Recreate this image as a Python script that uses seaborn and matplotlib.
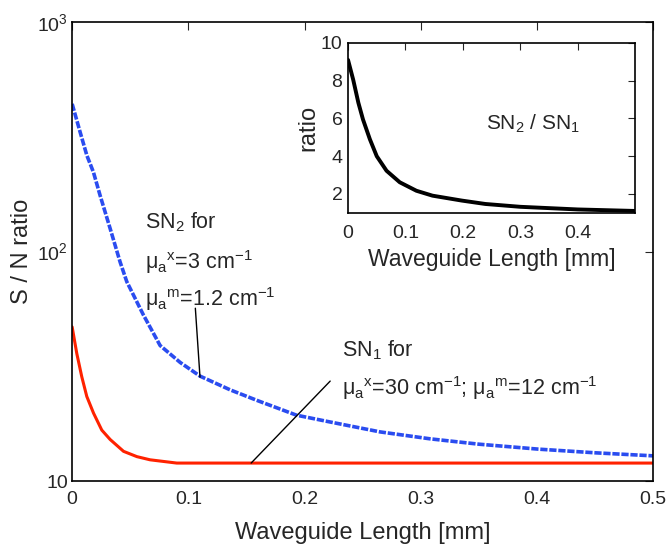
import matplotlib
matplotlib.use("Agg")
import matplotlib.pyplot as plt
import seaborn as sns
import numpy as np

# values
x_sn2 = [0, 0.0069, 0.0127, 0.0183, 0.024, 0.0327, 0.0413, 0.047, 0.0613, 0.0757,
         0.093, 0.110, 0.136, 0.16, 0.193, 0.22, 0.265, 0.308, 0.35, 0.401, 0.45, 0.5]
y_sn2 = [440, 331, 262, 222, 176, 126, 90, 74, 53, 39,
         32.9, 28.7, 25.0, 22.4, 19.4, 18.2, 16.4, 15.3, 14.5, 13.8, 13.3, 12.9]

x_sn1 = [0, 0.004, 0.0083, 0.0126, 0.0184, 0.0255, 0.0327, 0.0442, 0.0557, 0.067,
         0.090, 0.15, 0.3, 0.5]
y_sn1 = [47.0, 36.0, 28.5, 23.4, 19.8, 16.7, 15.2, 13.5, 12.8, 12.4,
         12.0, 12.0, 12.0, 12.0]

x_ratio = [0, 0.009, 0.018, 0.026, 0.038, 0.05, 0.067, 0.09, 0.119, 0.147, 0.198,
           0.239, 0.3, 0.4, 0.5]
y_ratio = [9.1, 8.05, 6.83, 5.95, 4.9, 4.0, 3.23, 2.62, 2.17, 1.91, 1.65,
           1.47, 1.32, 1.18, 1.1]

x_ticks = [0, 0.1, 0.2, 0.3, 0.4, 0.5]
x_ticklabels = ['0', '0.1', '0.2', '0.3', '0.4', '0.5']
y_ticks = [10, 100, 1000]
y_ticklabels = ['10', '$10^2$', '$10^3$']
inset_xticks = [0, 0.1, 0.2, 0.3, 0.4]
inset_xticklabels = ['0', '0.1', '0.2', '0.3', '0.4']
inset_yticks = [2, 4, 6, 8, 10]

sns.set_style('white')
plt.rcParams['font.family'] = ['Liberation Sans', 'DejaVu Sans']
plt.rcParams['mathtext.default'] = 'regular'
plt.rcParams['xtick.direction'] = 'in'
plt.rcParams['ytick.direction'] = 'in'

fig = plt.figure(figsize=(6.68, 5.5), dpi=100)
ax = fig.add_axes([0.108, 0.125, 0.870, 0.835])

sns.lineplot(x=x_sn2, y=y_sn2, ax=ax, color='#2a4cf0', linewidth=2.6,
             linestyle=(0, (2.0, 0.5)), sort=False)
sns.lineplot(x=x_sn1, y=y_sn1, ax=ax, color='#ff2200', linewidth=2.2, sort=False)

ax.set_yscale('log')
ax.set_xlim(0, 0.5)
ax.set_ylim(10, 1000)
ax.set_xticks(x_ticks)
ax.set_xticklabels(x_ticklabels)
ax.set_yticks(y_ticks)
ax.set_yticklabels(y_ticklabels)
ax.yaxis.set_minor_locator(matplotlib.ticker.NullLocator())
ax.tick_params(which='both', top=True, right=True, length=6, width=0.8,
               labelsize=14)
ax.tick_params(axis='x', pad=7)
ax.tick_params(axis='y', pad=3)
for sp in ax.spines.values():
    sp.set_color('black')
    sp.set_linewidth(1.2)
ax.set_xlabel('Waveguide Length [mm]', fontsize=17, labelpad=10)
ax.set_ylabel('S / N ratio', fontsize=17)
ax.yaxis.set_label_coords(-0.068, 0.5)

# annotations
ax.text(0.063, 134, 'SN$_2$ for', fontsize=15.5, va='center')
ax.text(0.063, 90, '$\\mu_a{}^x$=3 cm$^{-1}$', fontsize=15.5, va='center')
ax.text(0.063, 62, '$\\mu_a{}^m$=1.2 cm$^{-1}$', fontsize=15.5, va='center')
ax.plot([0.106, 0.110], [56.7, 28.4], color='black', linewidth=1)

ax.text(0.232, 37.2, 'SN$_1$ for', fontsize=15.5, va='center')
ax.text(0.232, 25.4, '$\\mu_a{}^x$=30 cm$^{-1}$; $\\mu_a{}^m$=12 cm$^{-1}$',
        fontsize=15.5, va='center')
ax.plot([0.154, 0.222], [12.0, 27.3], color='black', linewidth=1)

# inset
axin = fig.add_axes([0.521, 0.613, 0.430, 0.309])
sns.lineplot(x=x_ratio, y=y_ratio, ax=axin, color='black', linewidth=2.8, sort=False)
axin.set_xlim(0, 0.5)
axin.set_ylim(1, 10)
axin.set_xticks(inset_xticks)
axin.set_xticklabels(inset_xticklabels)
axin.set_yticks(inset_yticks)
axin.tick_params(top=True, right=True, length=5, width=0.8, labelsize=14)
axin.tick_params(axis='x', pad=9)
axin.tick_params(axis='y', pad=4)
for sp in axin.spines.values():
    sp.set_color('black')
    sp.set_linewidth(1.2)
axin.set_xlabel('Waveguide Length [mm]', fontsize=16.5, labelpad=4)
axin.set_ylabel('ratio', fontsize=17, labelpad=1)
axin.text(0.24, 5.7, 'SN$_2$ / SN$_1$', fontsize=15, va='center')

fig.savefig('out.png', dpi=100)
